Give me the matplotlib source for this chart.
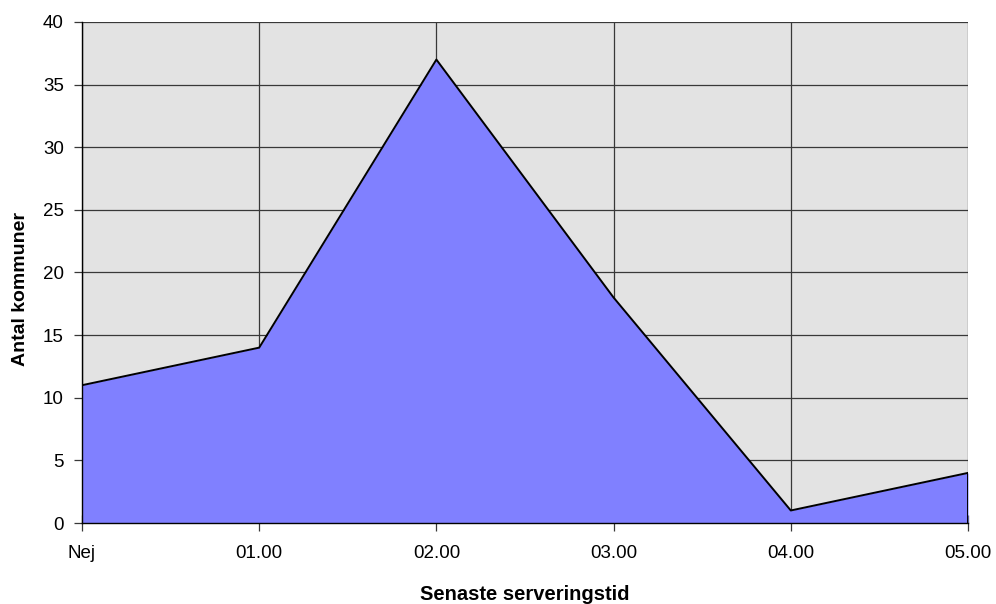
import numpy as np
import matplotlib.pyplot as plt

plt.rcParams['font.family'] = ['Liberation Sans', 'DejaVu Sans']

# serving hours and number of municipalities
categories = ['Nej', '01.00', '02.00', '03.00', '04.00', '05.00']
counts = [11, 14, 37, 18, 1, 4]

fig = plt.figure(figsize=(9.96, 6.04), dpi=100)
ax = fig.add_axes([0.0823, 0.1341, 0.8896, 0.8295])

x = np.arange(len(categories))
ax.set_facecolor('#e3e3e3')
ax.fill_between(x, counts, 0, color='#8080ff', lw=0, zorder=2)
ax.plot(x, counts, color='black', lw=1.4, zorder=3)
ax.plot([x[-1], x[-1]], [0, counts[-1]], color='black', lw=1.4, zorder=3)

ax.set_xlim(x[0], x[-1])
ax.set_ylim(0, 40)
ax.set_yticks(range(0, 41, 5))
ax.set_xticks(x)
ax.set_xticklabels(categories)

ax.grid(True, color='#383838', lw=0.9, zorder=1)
ax.set_axisbelow(True)

for side in ['top', 'right']:
    ax.spines[side].set_visible(False)
for side in ['left', 'bottom']:
    ax.spines[side].set_color('black')
    ax.spines[side].set_linewidth(1.0)
    ax.spines[side].set_zorder(4)

ax.tick_params(axis='y', direction='out', length=6, width=0.9, labelsize=13.5, pad=7, color='#383838')
ax.tick_params(axis='x', direction='inout', length=12, width=0.9, labelsize=13.5, pad=10, color='#383838')

ax.set_xlabel('Senaste serveringstid', fontsize=14.5, fontweight='bold', va='top')
ax.set_ylabel('Antal kommuner', fontsize=14, fontweight='bold')
ax.xaxis.set_label_coords(0.5, -0.123)
ax.yaxis.set_label_coords(-0.06, 0.467)

fig.savefig('out.png', dpi=100)
